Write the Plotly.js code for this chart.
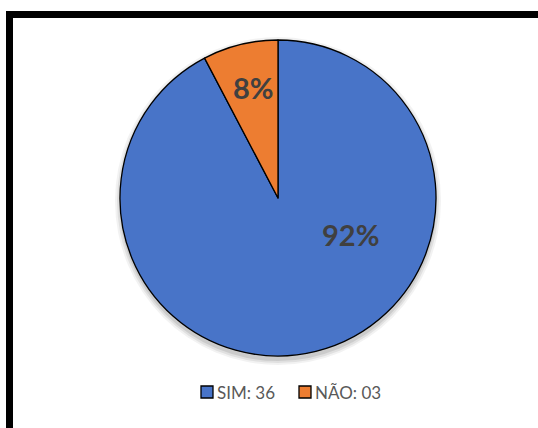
<!DOCTYPE html>
<html>
<head>
<meta charset="utf-8">
<script src="https://cdn.plot.ly/plotly-3.0.1.min.js"></script>
<style>
  html, body { margin: 0; padding: 0; background: #ffffff; }
  #chart { width: 538px; height: 428px; }
</style>
</head>
<body>
<div id="chart"></div>
<script>
// Respostas (SIM / NÃO)
const categories = ['SIM', 'NÃO'];
const counts = [36, 3];
const countLabels = ['36', '03'];
const sliceColors = ['#4874C8', '#ED7D31'];

const W = 538, H = 428;
const total = counts.reduce((a, b) => a + b, 0);
const pctText = counts.map(v => Math.round(100 * v / total) + '%');

// pie geometry in pixels
const cx = 278, cy = 198, r = 158;
const px = x => x / W;
const py = y => 1 - y / H;

const pie = {
  type: 'pie',
  labels: categories.map((c, i) => c + ': ' + countLabels[i]),
  values: counts,
  sort: false,
  direction: 'clockwise',
  rotation: 0,
  textinfo: 'none',
  hoverinfo: 'label+percent',
  marker: { colors: sliceColors, line: { color: '#000000', width: 1.3 } },
  domain: { x: [px(cx - r), px(cx + r)], y: [py(cy + r), py(cy - r)] },
  showlegend: false
};

// percentage labels on the slices
const labelPos = [[350, 234], [253, 87]];
const annotations = pctText.map((t, i) => ({
  xref: 'paper', yref: 'paper',
  x: px(labelPos[i][0]), y: py(labelPos[i][1]),
  xanchor: 'center', yanchor: 'middle',
  text: '<b>' + t + '</b>',
  showarrow: false,
  font: { family: 'Lato, sans-serif', size: 29, color: '#404040' }
}));

// legend row: square swatch + "CATEGORIA: n"
const legendY = 392;
const legendX = [201, 299];
const shapes = [];

// soft shadow under the pie
[[6, 0.05], [4, 0.07], [2, 0.09]].forEach(([d, a]) => {
  shapes.push({
    type: 'circle', xref: 'paper', yref: 'paper', layer: 'below',
    x0: px(cx - r - d + 1), x1: px(cx + r + d - 1),
    y0: py(cy + 3 + r + d), y1: py(cy + 3 - r - d),
    line: { width: 0 }, fillcolor: 'rgba(0,0,0,' + a + ')'
  });
});

categories.forEach((c, i) => {
  shapes.push({
    type: 'rect', xref: 'paper', yref: 'paper',
    x0: px(legendX[i]), x1: px(legendX[i] + 12),
    y0: py(legendY + 6), y1: py(legendY - 6),
    line: { color: '#000000', width: 1.3 },
    fillcolor: sliceColors[i]
  });
  annotations.push({
    xref: 'paper', yref: 'paper',
    x: px(legendX[i] + 14), y: py(legendY),
    xanchor: 'left', yanchor: 'middle',
    text: c + ': ' + countLabels[i],
    showarrow: false,
    font: { family: 'Lato, sans-serif', size: 17, color: '#595959' }
  });
});

// outer frame
shapes.push({
  type: 'rect', xref: 'paper', yref: 'paper',
  x0: px(9.5), x1: 1.05, y0: -0.05, y1: py(14.5),
  line: { color: '#000000', width: 7 },
  fillcolor: 'rgba(0,0,0,0)',
  layer: 'above'
});

const layout = {
  width: W, height: H,
  margin: { l: 0, r: 0, t: 0, b: 0 },
  paper_bgcolor: '#ffffff',
  plot_bgcolor: '#ffffff',
  showlegend: false,
  annotations: annotations,
  shapes: shapes
};

Plotly.newPlot('chart', [pie], layout, { displayModeBar: false, staticPlot: true });
</script>
</body>
</html>
